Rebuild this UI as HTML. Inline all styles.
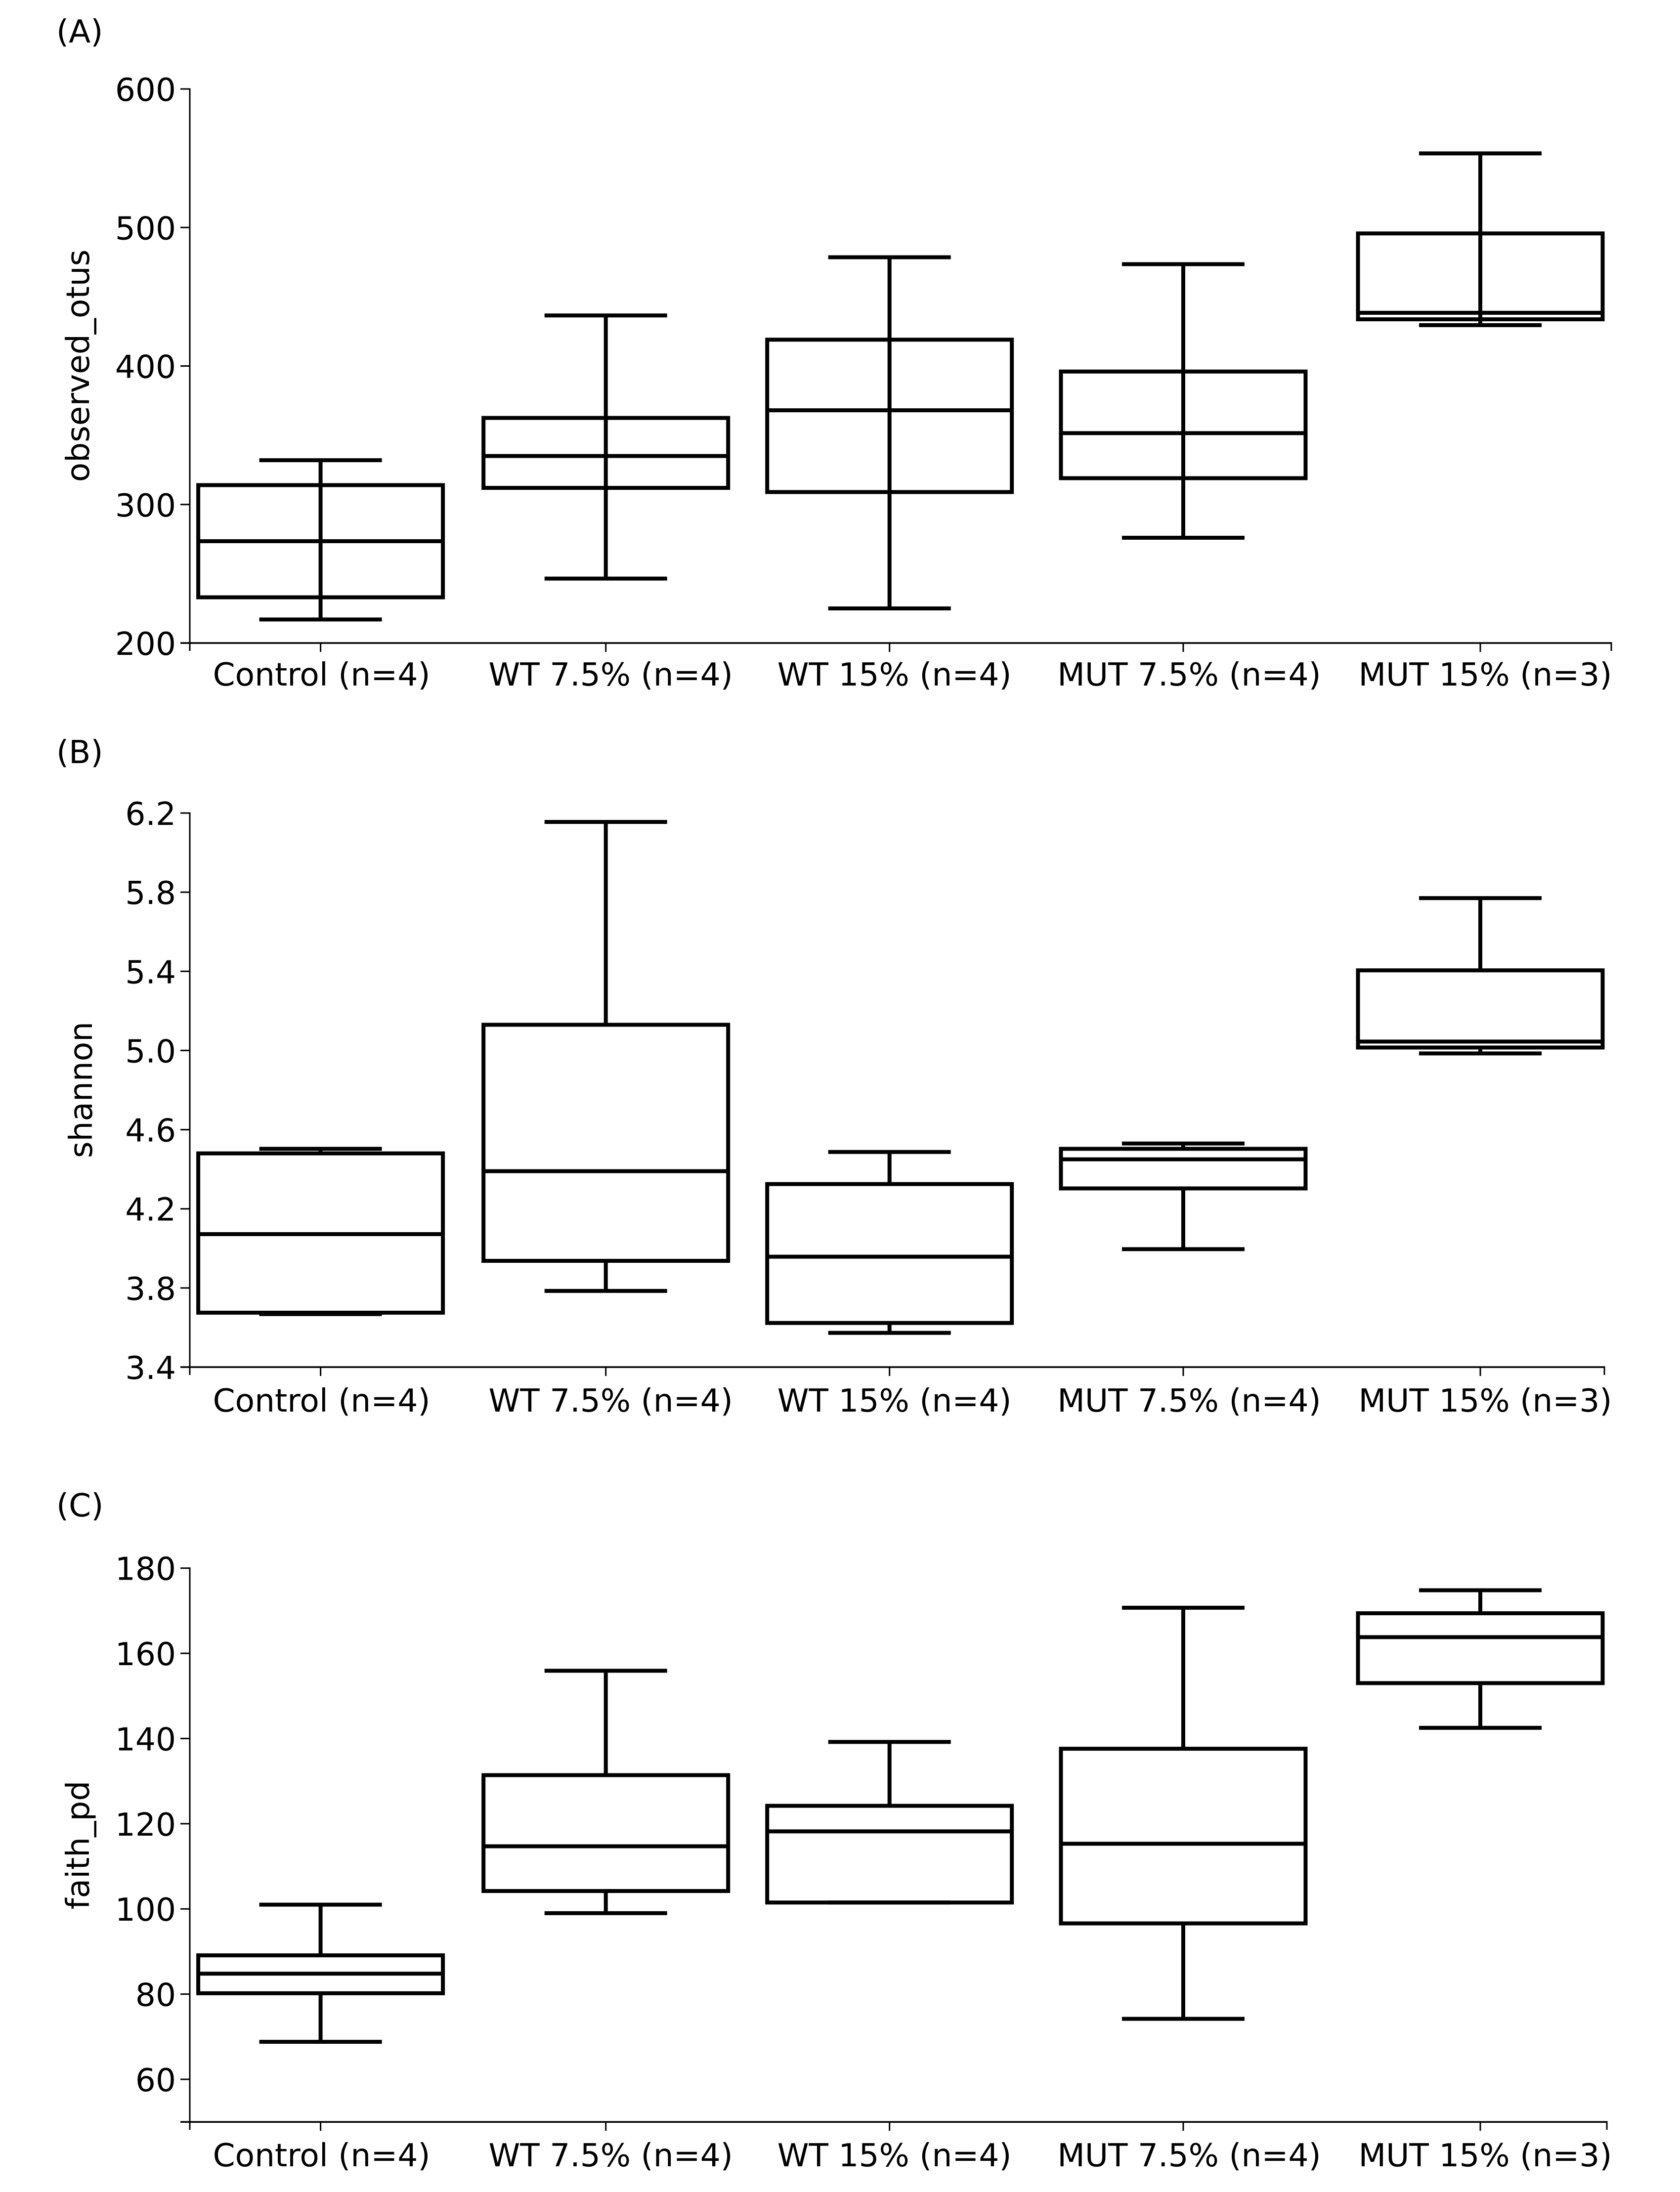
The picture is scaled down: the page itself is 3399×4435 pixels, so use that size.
<!DOCTYPE html>
<html lang="en">
<head>
<meta charset="utf-8">
<title>Alpha diversity box plots</title>
<style>
html,body{margin:0;padding:0;background:#fff;}
svg{display:block;}
text{font-family:"DejaVu Sans","Liberation Sans",sans-serif;fill:#000;}
</style>
</head>
<body>
<svg id="figure" xmlns="http://www.w3.org/2000/svg" width="3399" height="4435" viewBox="0 0 3399 4435">
<rect x="0" y="0" width="3399" height="4435" fill="#fff"/>
<text x="114" y="86" font-size="64.5">(A)</text>
<text x="114" y="1544" font-size="64.5">(B)</text>
<text x="114" y="3068" font-size="64.5">(C)</text>
<text transform="translate(180 740) rotate(-90)" text-anchor="middle" font-size="64.5">observed_otus</text>
<text transform="translate(186 2205) rotate(-90)" text-anchor="middle" font-size="64.5">shannon</text>
<text transform="translate(180 3733) rotate(-90)" text-anchor="middle" font-size="64.5">faith_pd</text>
</svg>
<script>
var categories = ['Control (n=4)', 'WT 7.5% (n=4)', 'WT 15% (n=4)', 'MUT 7.5% (n=4)', 'MUT 15% (n=3)'];
var categoryPositions = [0, 0.9838, 1.9623, 2.9754, 4];

var otusTicks = ['200', '300', '400', '500', '600'];
var otusLow = [217, 246.5, 225, 276, 429.5];
var otusQ1 = [233, 312, 309, 319, 433.7];
var otusMedian = [273.5, 335, 368, 351.5, 438.4];
var otusQ3 = [314, 362.5, 419, 396, 495.7];
var otusHigh = [332, 436.5, 478.5, 473.5, 553.5];

var shannonTicks = ['3.4', '3.8', '4.2', '4.6', '5.0', '5.4', '5.8', '6.2'];
var shannonLow = [3.668, 3.785, 3.573, 3.996, 4.985];
var shannonQ1 = [3.675, 3.937, 3.623, 4.303, 5.015];
var shannonMedian = [4.072, 4.39, 3.958, 4.45, 5.045];
var shannonQ3 = [4.48, 5.13, 4.325, 4.503, 5.405];
var shannonHigh = [4.503, 6.155, 4.487, 4.53, 5.77];

var faithTicks = ['60', '80', '100', '120', '140', '160', '180'];
var faithLow = [68.8, 99, 101.5, 74.2, 142.5];
var faithQ1 = [80.2, 104.2, 101.5, 96.6, 153];
var faithMedian = [84.8, 114.7, 118.2, 115.3, 163.8];
var faithQ3 = [89.1, 131.4, 124.2, 137.6, 169.4];
var faithHigh = [101, 155.9, 139.2, 170.7, 174.8];

var SVG_NS = 'http://www.w3.org/2000/svg';
var root = document.getElementById('figure');

function xScale(p) {
  return 648.6 + p * 586.6;
}

function makeYScale(v0, px0, v1, px1) {
  return function (v) {
    return px0 + (v - v0) * (px1 - px0) / (v1 - v0);
  };
}

function addLine(parent, x1, y1, x2, y2, width, name) {
  var el = document.createElementNS(SVG_NS, 'line');
  el.setAttribute('x1', x1);
  el.setAttribute('y1', y1);
  el.setAttribute('x2', x2);
  el.setAttribute('y2', y2);
  el.setAttribute('stroke', '#000');
  el.setAttribute('stroke-width', width);
  
  
  parent.appendChild(el);
  return el;
}

function addText(parent, x, y, anchor, content, name) {
  var el = document.createElementNS(SVG_NS, 'text');
  el.setAttribute('x', x);
  el.setAttribute('y', y);
  el.setAttribute('text-anchor', anchor);
  el.setAttribute('font-size', '64.5');
  el.textContent = content;
  
  
  parent.appendChild(el);
  return el;
}

function labelNudge(i) {
  if (i === 0) return 2;
  if (i === 3) return 12;
  return 10;
}

function drawPanel(key, yScale, axisY, topY, rightX, labelY, whiskerThrough, ticks, low, q1, med, q3, high) {
  var g = document.createElementNS(SVG_NS, 'g');
  
  
  root.appendChild(g);

  var axisLeft = 384;
  addLine(g, axisLeft, topY - 1.5, axisLeft, axisY + 16, 3, key + '-y-axis-line');
  addLine(g, axisLeft - 19, axisY, rightX + 1.5, axisY, 3.5, key + '-x-axis-line');
  addLine(g, rightX, axisY, rightX, axisY + 16, 3, key + '-x-axis-end-tick');

  ticks.forEach(function (label) {
    var y = yScale(parseFloat(label));
    addLine(g, axisLeft - 19, y, axisLeft, y, 3, key + '-y-tick-' + label);
    addText(g, 356, y + 24, 'end', label, key + '-y-tick-label-' + label);
  });

  categories.forEach(function (cat, i) {
    var cx = xScale(categoryPositions[i]);
    addLine(g, cx, axisY, cx, axisY + 18, 3, key + '-x-tick-' + i);
    addText(g, cx + labelNudge(i), labelY, 'middle', cat, key + '-x-tick-label-' + i);

    var boxHalf = 247.5;
    var capHalf = 124;
    var lw = 8;
    var mark = document.createElementNS(SVG_NS, 'g');
    
    
    g.appendChild(mark);

    var rect = document.createElementNS(SVG_NS, 'rect');
    rect.setAttribute('x', cx - boxHalf);
    rect.setAttribute('y', yScale(q3[i]));
    rect.setAttribute('width', boxHalf * 2);
    rect.setAttribute('height', yScale(q1[i]) - yScale(q3[i]));
    rect.setAttribute('fill', 'none');
    rect.setAttribute('stroke', '#000');
    rect.setAttribute('stroke-width', lw);
    
    
    mark.appendChild(rect);

    if (whiskerThrough) {
      addLine(mark, cx, yScale(high[i]), cx, yScale(low[i]), lw, key + '-whisker-' + i);
    } else {
      addLine(mark, cx, yScale(high[i]), cx, yScale(q3[i]), lw, key + '-upper-whisker-' + i);
      addLine(mark, cx, yScale(q1[i]), cx, yScale(low[i]), lw, key + '-lower-whisker-' + i);
    }
    addLine(mark, cx - boxHalf, yScale(med[i]), cx + boxHalf, yScale(med[i]), lw, key + '-median-' + i);
    addLine(mark, cx - capHalf, yScale(high[i]), cx + capHalf, yScale(high[i]), lw, key + '-upper-cap-' + i);
    addLine(mark, cx - capHalf, yScale(low[i]), cx + capHalf, yScale(low[i]), lw, key + '-lower-cap-' + i);
  });
}

var yOtus = makeYScale(200, 1301, 600, 180);
var yShannon = makeYScale(3.4, 2766, 6.2, 1645);
var yFaith = makeYScale(60, 4207, 180, 3172.7);

drawPanel('observed-otus', yOtus, yOtus(200), yOtus(600), 3260, 1387, true, otusTicks, otusLow, otusQ1, otusMedian, otusQ3, otusHigh);
drawPanel('shannon', yShannon, yShannon(3.4), yShannon(6.2), 3246, 2856, false, shannonTicks, shannonLow, shannonQ1, shannonMedian, shannonQ3, shannonHigh);
drawPanel('faith-pd', yFaith, yFaith(50), yFaith(180), 3251, 4383, false, faithTicks, faithLow, faithQ1, faithMedian, faithQ3, faithHigh);
</script>
</body>
</html>
